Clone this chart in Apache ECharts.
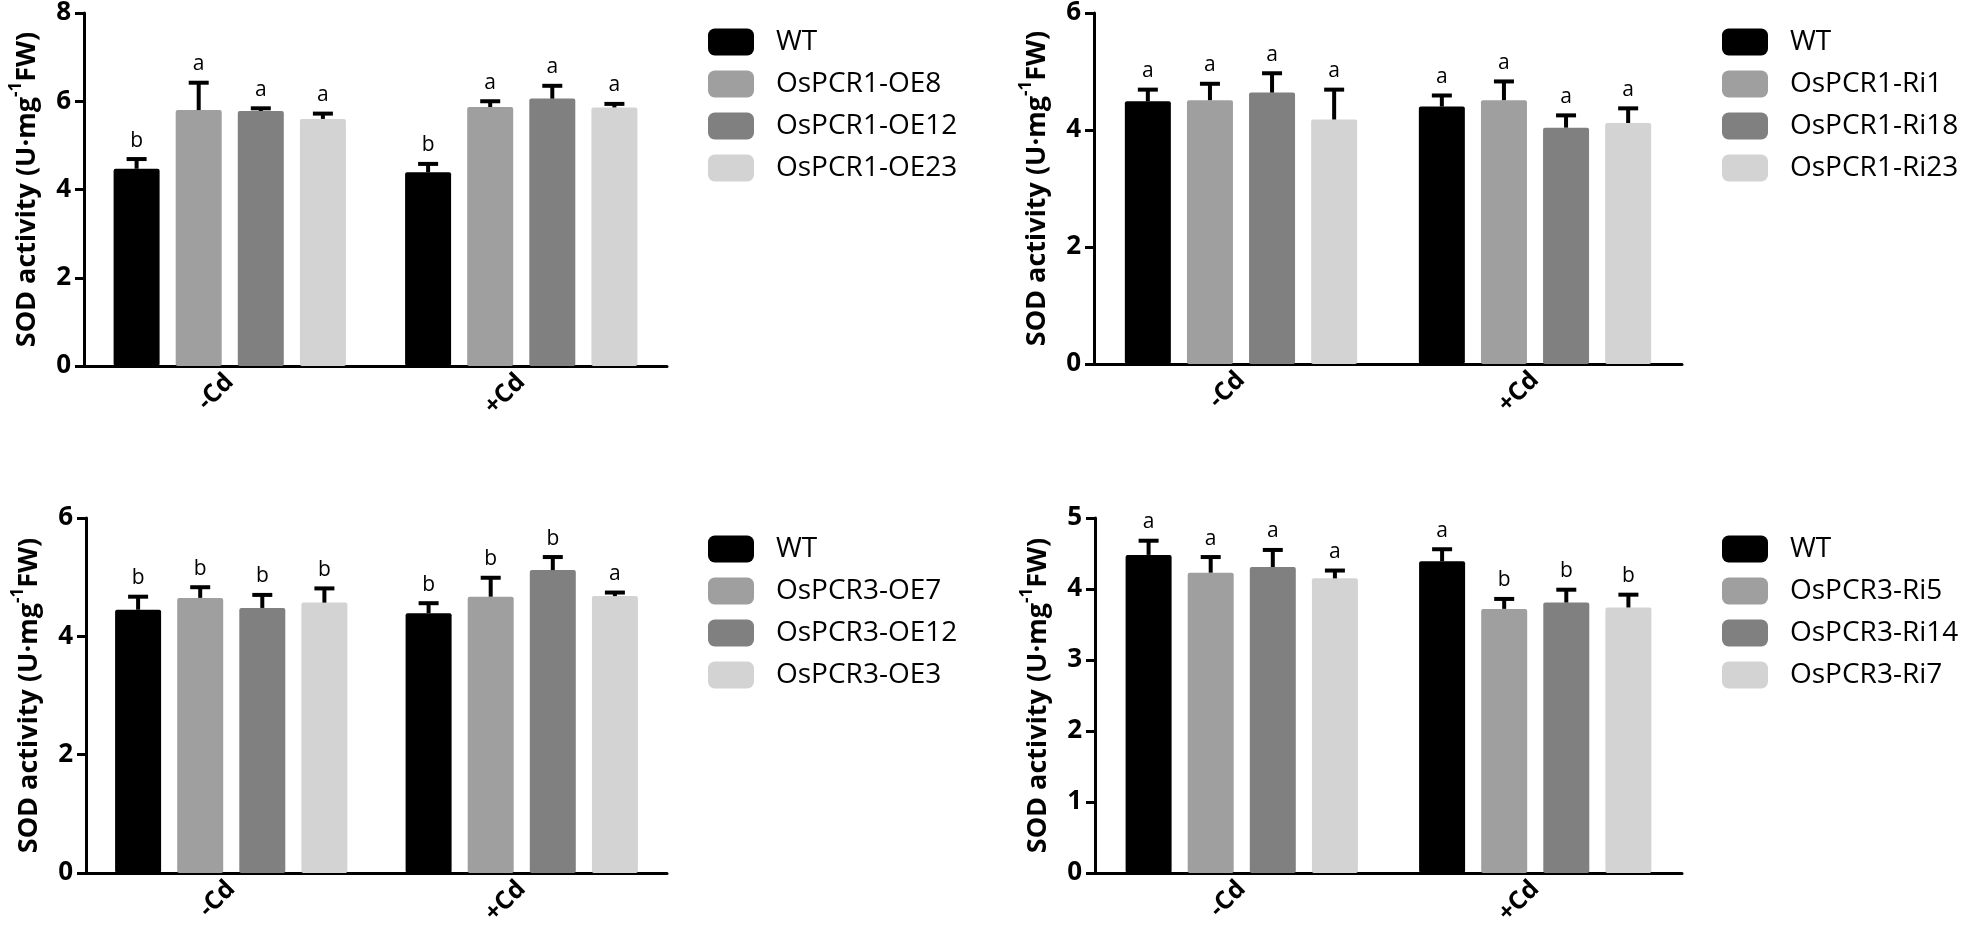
<!DOCTYPE html>
<html>
<head>
<meta charset="utf-8">
<script src="https://cdn.jsdelivr.net/npm/echarts@6/dist/echarts.min.js"></script>
<style>
  html, body { margin: 0; padding: 0; background: #fff; }
  #chart { width: 1961px; height: 930px; }
</style>
</head>
<body>
<div id="chart"></div>
<script>
// x categories shared by all four panels
const categories = ['-Cd', '+Cd'];
const barColors = ['#000000', '#9f9f9f', '#808080', '#d3d3d3'];

// top left: OsPCR1 overexpression lines
const namesA = ['WT', 'OsPCR1-OE8', 'OsPCR1-OE12', 'OsPCR1-OE23'];
const meansA = [[4.47, 4.39], [5.80, 5.87], [5.78, 6.06], [5.60, 5.86]];
const errsA = [[0.22, 0.19], [0.62, 0.13], [0.06, 0.29], [0.12, 0.08]];
const lettersA = [['b', 'b'], ['a', 'a'], ['a', 'a'], ['a', 'a']];
const ticksA = [0, 2, 4, 6, 8];

// top right: OsPCR1 RNAi lines
const namesB = ['WT', 'OsPCR1-Ri1', 'OsPCR1-Ri18', 'OsPCR1-Ri23'];
const meansB = [[4.49, 4.40], [4.51, 4.51], [4.64, 4.04], [4.18, 4.12]];
const errsB = [[0.20, 0.19], [0.28, 0.32], [0.33, 0.21], [0.51, 0.25]];
const lettersB = [['a', 'a'], ['a', 'a'], ['a', 'a'], ['a', 'a']];
const ticksB = [0, 2, 4, 6];

// bottom left: OsPCR3 overexpression lines
const namesC = ['WT', 'OsPCR3-OE7', 'OsPCR3-OE12', 'OsPCR3-OE3'];
const meansC = [[4.45, 4.39], [4.65, 4.67], [4.48, 5.12], [4.57, 4.68]];
const errsC = [[0.22, 0.17], [0.18, 0.32], [0.22, 0.22], [0.24, 0.06]];
const lettersC = [['b', 'b'], ['b', 'b'], ['b', 'b'], ['b', 'a']];
const ticksC = [0, 2, 4, 6];

// bottom right: OsPCR3 RNAi lines
const namesD = ['WT', 'OsPCR3-Ri5', 'OsPCR3-Ri14', 'OsPCR3-Ri7'];
const meansD = [[4.48, 4.39], [4.23, 3.72], [4.31, 3.81], [4.15, 3.74]];
const errsD = [[0.20, 0.17], [0.22, 0.14], [0.24, 0.18], [0.11, 0.18]];
const lettersD = [['a', 'a'], ['a', 'b'], ['a', 'b'], ['a', 'b']];
const ticksD = [0, 1, 2, 3, 4, 5];

const FONT = '"Open Sans", "Noto Sans", sans-serif';
const BAR_W = 46;
const BAR_STEP = BAR_W * 1.35;

const panels = [
  { names: namesA, means: meansA, errs: errsA, letters: lettersA, ticks: ticksA,
    grid: { left: 84, top: 11, width: 583, height: 355 }, legend: { left: 703, top: 23 } },
  { names: namesB, means: meansB, errs: errsB, letters: lettersB, ticks: ticksB,
    grid: { left: 1094, top: 10, width: 588, height: 354 }, legend: { left: 1717, top: 23 } },
  { names: namesC, means: meansC, errs: errsC, letters: lettersC, ticks: ticksC,
    grid: { left: 86, top: 518, width: 581, height: 355 }, legend: { left: 703, top: 530 } },
  { names: namesD, means: meansD, errs: errsD, letters: lettersD, ticks: ticksD,
    grid: { left: 1095, top: 518, width: 587, height: 355 }, legend: { left: 1717, top: 530 } }
];

// error bar (upward only) plus significance letter above it
function errorRenderer(p) {
  return function (params, api) {
    const cat = api.value(0);
    const s = api.value(1);
    const mean = p.means[s][cat];
    const err = p.errs[s][cat];
    const cx = api.coord([cat, 0])[0] + (s - 1.5) * BAR_STEP;
    const yBar = api.coord([cat, mean])[1];
    const yTop = api.coord([cat, mean + err])[1];
    return {
      type: 'group',
      children: [
        { type: 'line', shape: { x1: cx, y1: yBar, x2: cx, y2: yTop },
          style: { stroke: '#000', lineWidth: 4 } },
        { type: 'line', shape: { x1: cx - 10, y1: yTop, x2: cx + 10, y2: yTop },
          style: { stroke: '#000', lineWidth: 4 } },
        { type: 'text', x: cx, y: yTop - 8,
          style: { text: p.letters[s][cat], fill: '#000', font: '21px ' + FONT,
                   align: 'center', verticalAlign: 'bottom' } }
      ]
    };
  };
}

const grids = [], xAxes = [], yAxes = [], legends = [], series = [];

panels.forEach((p, i) => {
  grids.push(Object.assign({ containLabel: false }, p.grid));

  xAxes.push({
    gridIndex: i,
    type: 'category',
    data: categories,
    axisLine: { lineStyle: { color: '#000', width: 3 } },
    axisTick: { alignWithLabel: true, length: 9, lineStyle: { color: '#000', width: 3 } },
    axisLabel: { rotate: 45, color: '#000', fontSize: 25, fontWeight: 'bold',
                 fontFamily: FONT, margin: 12 }
  });

  const ticks = p.ticks;
  yAxes.push({
    gridIndex: i,
    type: 'value',
    min: ticks[0],
    max: ticks[ticks.length - 1],
    interval: ticks[1] - ticks[0],
    splitLine: { show: false },
    axisLine: { show: true, lineStyle: { color: '#000', width: 3 } },
    axisTick: { show: true, length: 9, lineStyle: { color: '#000', width: 3 } },
    axisLabel: { color: '#000', fontSize: 26, fontWeight: 'bold', fontFamily: FONT, margin: 13 },
    name: '{b|SOD activity (U·mg}{sup|-1}{b|FW)}',
    nameLocation: 'middle',
    nameRotate: 90,
    nameGap: 38,
    nameTextStyle: {
      rich: {
        b: { fontSize: 27, fontWeight: 'bold', fontFamily: FONT, color: '#000', lineHeight: 38 },
        sup: { fontSize: 17, fontWeight: 'bold', fontFamily: FONT, color: '#000',
               verticalAlign: 'top', lineHeight: 38 }
      }
    }
  });

  legends.push({
    orient: 'vertical',
    left: p.legend.left,
    top: p.legend.top,
    data: p.names,
    icon: 'roundRect',
    itemWidth: 46,
    itemHeight: 27,
    itemGap: 14,
    selectedMode: false,
    textStyle: { fontFamily: FONT, fontSize: 28, color: '#000', lineHeight: 27,
                 padding: [0, 0, 0, 17] }
  });

  p.names.forEach((name, s) => {
    series.push({
      name: name,
      type: 'bar',
      xAxisIndex: i,
      yAxisIndex: i,
      data: p.means[s],
      barWidth: BAR_W,
      barGap: '35%',
      itemStyle: { color: barColors[s], borderRadius: 2 },
      emphasis: { disabled: true },
      silent: true
    });
  });

  const errData = [];
  p.names.forEach((name, s) => {
    categories.forEach((c, ci) => errData.push([ci, s]));
  });
  series.push({
    type: 'custom',
    xAxisIndex: i,
    yAxisIndex: i,
    z: 5,
    silent: true,
    renderItem: errorRenderer(p),
    data: errData
  });
});

const chart = echarts.init(document.getElementById('chart'), null, { renderer: 'canvas' });
chart.setOption({
  backgroundColor: '#fff',
  animation: false,
  grid: grids,
  xAxis: xAxes,
  yAxis: yAxes,
  legend: legends,
  series: series
});
window.addEventListener('resize', () => chart.resize());
</script>
</body>
</html>
